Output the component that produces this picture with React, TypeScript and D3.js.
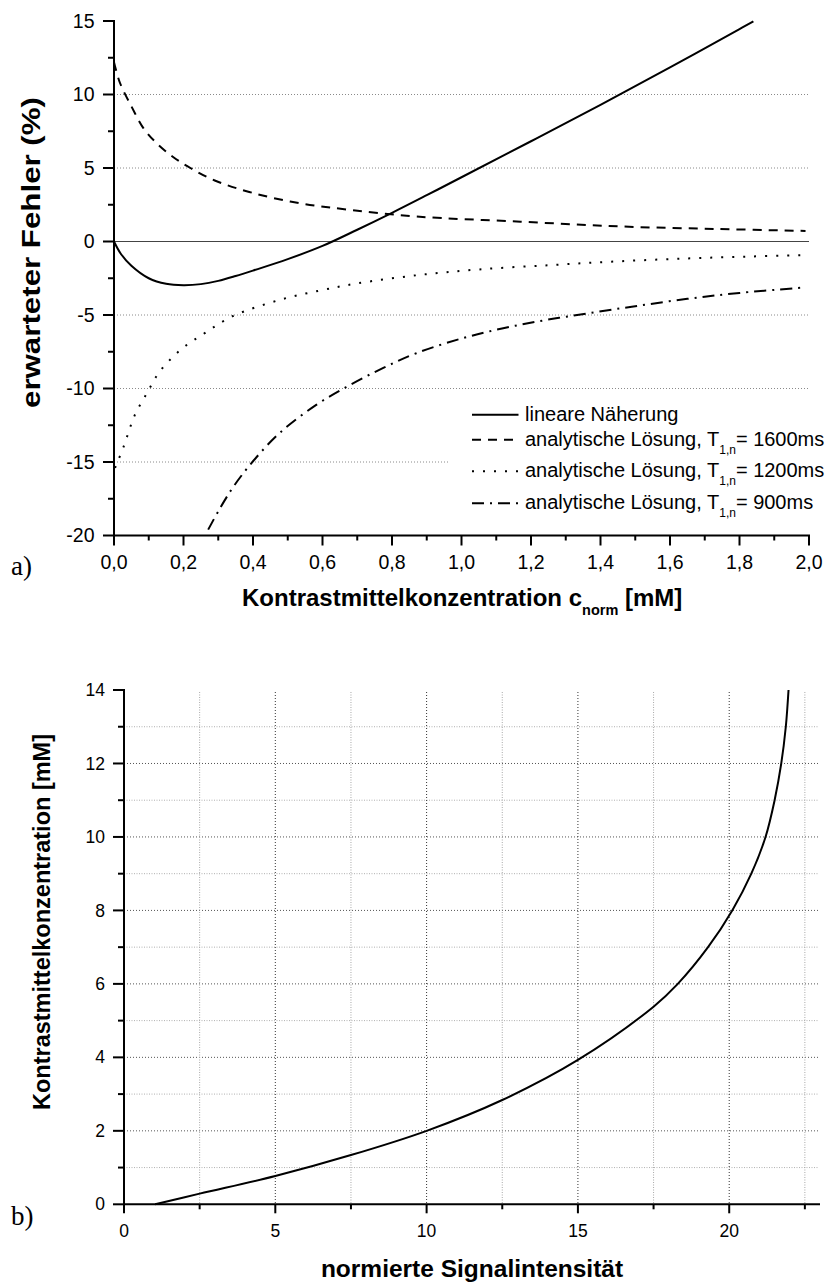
import React from "react";
import * as d3 from "d3";

// ---------- Data: chart a) ----------
const linX = [0, 0.02, 0.05, 0.1, 0.15, 0.2, 0.25, 0.3, 0.35, 0.4, 0.5, 0.6, 0.7, 0.8, 0.9, 1.0, 1.2, 1.4, 1.6, 1.8, 1.84];
const linY = [0, -0.85, -1.65, -2.5, -2.88, -2.97, -2.9, -2.68, -2.35, -1.98, -1.2, -0.3, 0.8, 1.95, 3.15, 4.37, 6.82, 9.3, 11.85, 14.45, 14.98];

const t1600X = [0, 0.017, 0.05, 0.085, 0.12, 0.17, 0.22, 0.29, 0.4, 0.535, 0.68, 0.87, 1.17, 1.46, 1.74, 1.99];
const t1600Y = [12.2, 10.8, 9.2, 7.7, 6.75, 5.75, 5.0, 4.15, 3.3, 2.6, 2.15, 1.7, 1.35, 1.02, 0.85, 0.72];

const t1200X = [0.003, 0.027, 0.06, 0.094, 0.13, 0.19, 0.26, 0.34, 0.48, 0.6, 0.7, 0.87, 1.05, 1.26, 1.45, 1.65, 1.83, 1.99];
const t1200Y = [-15.4, -14.0, -11.8, -10.35, -8.9, -7.4, -6.25, -5.1, -3.95, -3.3, -2.85, -2.3, -1.9, -1.6, -1.35, -1.15, -1.02, -0.92];

const t900X = [0.271, 0.305, 0.343, 0.4, 0.478, 0.583, 0.68, 0.775, 0.87, 1.0, 1.12, 1.24, 1.36, 1.5, 1.65, 1.8, 1.99];
const t900Y = [-19.6, -18.15, -16.7, -14.95, -13.0, -11.1, -9.75, -8.6, -7.6, -6.6, -5.9, -5.35, -4.9, -4.4, -3.9, -3.5, -3.12];

const aXMajor = [0, 0.2, 0.4, 0.6, 0.8, 1.0, 1.2, 1.4, 1.6, 1.8, 2.0];
const aXMinor = [0.1, 0.3, 0.5, 0.7, 0.9, 1.1, 1.3, 1.5, 1.7, 1.9];
const aYMajor = [-20, -15, -10, -5, 0, 5, 10, 15];
const aYMinor = [-17.5, -12.5, -7.5, -2.5, 2.5, 7.5, 12.5];
const aYGrid = [-15, -10, -5, 5, 10];

const legendLabels = ["lineare Näherung", "analytische Lösung, T", "analytische Lösung, T", "analytische Lösung, T"];
const legendSuffix = ["", "= 1600ms", "= 1200ms", "= 900ms"];

// ---------- Data: chart b) ----------
const sigX = [1.03, 2.5, 5, 7.5, 10, 12.5, 15, 17.5, 18.3, 19.3, 20.1, 20.73, 21.2, 21.5, 21.72, 21.87, 21.96];
const concY = [0, 0.29, 0.77, 1.34, 2.0, 2.84, 3.93, 5.38, 6.0, 7.0, 8.0, 9.0, 10.0, 11.0, 12.0, 13.0, 14.0];

const bXMajor = [0, 5, 10, 15, 20];
const bXMinor = [2.5, 7.5, 12.5, 17.5, 22.5];
const bYMajor = [0, 2, 4, 6, 8, 10, 12, 14];
const bYMinor = [1, 3, 5, 7, 9, 11, 13];

const SANS = "'Liberation Sans', Arial, Helvetica, sans-serif";
const SERIF = "'Liberation Serif', 'Times New Roman', serif";

export default function App() {
  // scales chart a
  const ax = d3.scaleLinear().domain([0, 2]).range([114, 809]);
  const ay = d3.scaleLinear().domain([-20, 15]).range([535.5, 21]);
  // scales chart b
  const bx = d3.scaleLinear().domain([0, 23]).range([124, 820]);
  const by = d3.scaleLinear().domain([0, 14]).range([1204.3, 690]);

  const lineA = (xs: number[], ys: number[]) =>
    d3
      .line<number>()
      .x((_, i) => ax(xs[i]))
      .y((_, i) => ay(ys[i]))
      .curve(d3.curveCatmullRom.alpha(0.5))(xs) || "";

  const lineB =
    d3
      .line<number>()
      .x((_, i) => bx(sigX[i]))
      .y((_, i) => by(concY[i]))
      .curve(d3.curveCatmullRom.alpha(0.5))(sigX) || "";

  const fmtA = (v: number) => d3.format(".1f")(v).replace(".", ",");

  const series = [
    { d: lineA(linX, linY), dash: "none" },
    { d: lineA(t1600X, t1600Y), dash: "9,7" },
    { d: lineA(t1200X, t1200Y), dash: "2,9" },
    { d: lineA(t900X, t900Y), dash: "12,6,2,6" },
  ];
  const legendBase = [420.7, 445.7, 477.3, 509.3];

  return (
    <svg
      width={833}
      height={1286}
      style={{ position: "absolute", left: 0, top: 0, background: "#fff" }}
      fontFamily={SANS}
    >
      <rect x={0} y={0} width={833} height={1286} fill="#fff" />

      {/* ===== Chart a ===== */}
      {aYGrid.map((v) => (
        <line key={"ag" + v} x1={ax(0)} x2={ax(2)} y1={ay(v)} y2={ay(v)} stroke="#8a8a8a" strokeWidth={1} strokeDasharray="1,2" />
      ))}
      <line x1={ax(0)} x2={ax(2)} y1={ay(0)} y2={ay(0)} stroke="#444" strokeWidth={1} />

      {/* legend background covers grid */}
      <rect x={449} y={396} width={384} height={124} fill="#fff" />

      {series.map((s, i) => (
        <path key={"s" + i} d={s.d} fill="none" stroke="#000" strokeWidth={2} strokeDasharray={s.dash} />
      ))}

      {/* axes a */}
      <line x1={ax(0)} x2={ax(0)} y1={ay(15) - 1} y2={ay(-20) + 1} stroke="#000" strokeWidth={2} />
      <line x1={ax(0) - 1} x2={ax(2) + 1} y1={ay(-20)} y2={ay(-20)} stroke="#000" strokeWidth={2} />
      {aYMajor.map((v) => (
        <line key={"aym" + v} x1={ax(0) - 11} x2={ax(0)} y1={ay(v)} y2={ay(v)} stroke="#000" strokeWidth={2} />
      ))}
      {aYMinor.map((v) => (
        <line key={"ayn" + v} x1={ax(0) - 6} x2={ax(0)} y1={ay(v)} y2={ay(v)} stroke="#000" strokeWidth={2} />
      ))}
      {aXMajor.map((v) => (
        <line key={"axm" + v} x1={ax(v)} x2={ax(v)} y1={ay(-20)} y2={ay(-20) + 10} stroke="#000" strokeWidth={2} />
      ))}
      {aXMinor.map((v) => (
        <line key={"axn" + v} x1={ax(v)} x2={ax(v)} y1={ay(-20)} y2={ay(-20) + 5} stroke="#000" strokeWidth={2} />
      ))}
      {aYMajor.map((v) => (
        <text key={"ayl" + v} x={ax(0) - 19.5} y={ay(v)} dy="0.35em" textAnchor="end" fontSize={19.5}>
          {String(v)}
        </text>
      ))}
      {aXMajor.map((v) => (
        <text key={"axl" + v} x={ax(v)} y={569.3} textAnchor="middle" fontSize={19.5}>
          {fmtA(v)}
        </text>
      ))}

      {/* titles a */}
      <text
        transform="translate(40,252.5) rotate(-90)"
        textAnchor="middle"
        fontSize={25}
        fontWeight="bold"
        textLength={311}
        lengthAdjust="spacingAndGlyphs"
      >
        erwarteter Fehler (%)
      </text>
      <text x={242} y={606} fontSize={24} fontWeight="bold">
        Kontrastmittelkonzentration c
        <tspan fontSize={14.5} dy={9}>norm</tspan>
        <tspan dy={-9}> [mM]</tspan>
      </text>
      <text x={11} y={575} fontFamily={SERIF} fontSize={27}>
        a)
      </text>

      {/* legend */}
      {series.map((s, i) => (
        <g key={"lg" + i}>
          <line
            x1={472}
            x2={518.5}
            y1={legendBase[i] - 6}
            y2={legendBase[i] - 6}
            stroke="#000"
            strokeWidth={2}
            strokeDasharray={s.dash}
          />
          <text x={525} y={legendBase[i]} fontSize={20}>
            {legendLabels[i]}
            {i > 0 && (
              <>
                <tspan fontSize={12} dy={8}>1,n</tspan>
                <tspan dy={-8}>{legendSuffix[i]}</tspan>
              </>
            )}
          </text>
        </g>
      ))}

      {/* ===== Chart b ===== */}
      {bYMinor.map((v) => (
        <line key={"bgyn" + v} x1={bx(0)} x2={bx(23) - 2} y1={by(v)} y2={by(v)} stroke="#b0b0b0" strokeWidth={1} strokeDasharray="1,1.5" />
      ))}
      {bYMajor.filter((v) => v > 0 && v < 14).map((v) => (
        <line key={"bgym" + v} x1={bx(0)} x2={bx(23) - 2} y1={by(v)} y2={by(v)} stroke="#555" strokeWidth={1} strokeDasharray="1,2" />
      ))}
      {bXMinor.map((v) => (
        <line key={"bgxn" + v} x1={bx(v)} x2={bx(v)} y1={by(14) + 2} y2={by(0)} stroke="#a8a8a8" strokeWidth={1} strokeDasharray="1,1.5" />
      ))}
      {bXMajor.filter((v) => v > 0).map((v) => (
        <line key={"bgxm" + v} x1={bx(v)} x2={bx(v)} y1={by(14) + 2} y2={by(0)} stroke="#333" strokeWidth={1} strokeDasharray="1,2" />
      ))}

      <path d={lineB} fill="none" stroke="#000" strokeWidth={2} />

      {/* axes b */}
      <line x1={bx(0)} x2={bx(0)} y1={by(14) - 1} y2={by(0) + 1} stroke="#000" strokeWidth={2} />
      <line x1={bx(0) - 1} x2={bx(23)} y1={by(0)} y2={by(0)} stroke="#000" strokeWidth={2} />
      {bYMajor.map((v) => (
        <line key={"bym" + v} x1={bx(0) - 11} x2={bx(0)} y1={by(v)} y2={by(v)} stroke="#000" strokeWidth={2} />
      ))}
      {bYMinor.map((v) => (
        <line key={"byn" + v} x1={bx(0) - 6} x2={bx(0)} y1={by(v)} y2={by(v)} stroke="#000" strokeWidth={2} />
      ))}
      {bXMajor.map((v) => (
        <line key={"bxm" + v} x1={bx(v)} x2={bx(v)} y1={by(0)} y2={by(0) + 9} stroke="#000" strokeWidth={2} />
      ))}
      {bXMinor.map((v) => (
        <line key={"bxn" + v} x1={bx(v)} x2={bx(v)} y1={by(0)} y2={by(0) + 5} stroke="#000" strokeWidth={2} />
      ))}
      {bYMajor.map((v) => (
        <text key={"byl" + v} x={105} y={by(v)} dy="0.35em" textAnchor="end" fontSize={17.5}>
          {String(v)}
        </text>
      ))}
      {bXMajor.map((v) => (
        <text key={"bxl" + v} x={bx(v)} y={1236.7} textAnchor="middle" fontSize={17.5}>
          {String(v)}
        </text>
      ))}

      <text transform="translate(50,922) rotate(-90)" textAnchor="middle" fontSize={23.5} fontWeight="bold">
        Kontrastmittelkonzentration [mM]
      </text>
      <text x={472} y={1277} textAnchor="middle" fontSize={24.5} fontWeight="bold">
        normierte Signalintensität
      </text>
      <text x={11} y={1225} fontFamily={SERIF} fontSize={27}>
        b)
      </text>
    </svg>
  );
}
